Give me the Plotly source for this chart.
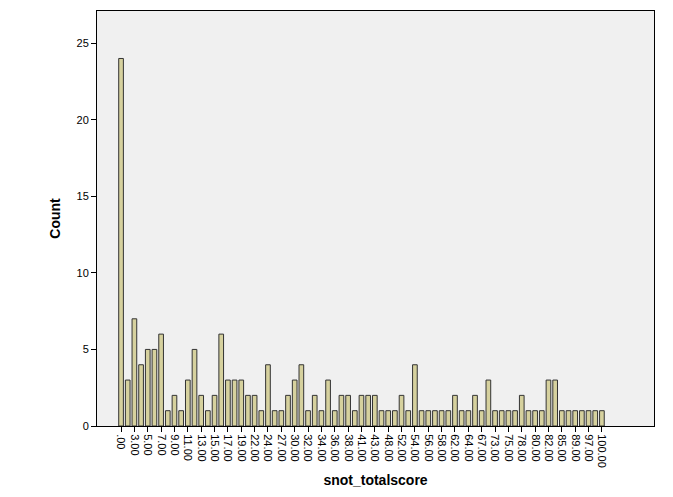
import plotly.graph_objects as go

scores = [0, 2, 3, 4, 5, 6, 7, 8, 9, 10, 11, 12, 13, 14, 15, 16, 17, 18, 19, 21,
          22, 23, 24, 26, 27, 29, 30, 31, 32, 33, 34, 35, 36, 37, 38, 40, 41, 42, 43, 45,
          48, 50, 52, 53, 54, 55, 56, 57, 58, 60, 62, 63, 64, 65, 67, 70, 73, 74, 75, 76,
          78, 79, 80, 81, 82, 83, 85, 87, 89, 93, 97, 99, 100]
counts = [24, 3, 7, 4, 5, 5, 6, 1, 2, 1, 3, 5, 2, 1, 2, 6, 3, 3, 3, 2,
          2, 1, 4, 1, 1, 2, 3, 4, 1, 2, 1, 3, 1, 2, 2, 1, 2, 2, 2, 1,
          1, 1, 2, 1, 4, 1, 1, 1, 1, 1, 2, 1, 1, 2, 1, 3, 1, 1, 1, 1,
          2, 1, 1, 1, 3, 3, 1, 1, 1, 1, 1, 1, 1]

labels = [".00" if s == 0 else f"{s}.00" for s in scores]

fig = go.Figure(go.Bar(
    x=labels, y=counts,
    marker=dict(color="#d6d19e", line=dict(color="#333333", width=1)),
    width=0.7,
))

fig.update_layout(
    width=673, height=497,
    margin=dict(l=89, r=27, t=3, b=79),
    plot_bgcolor="#f0f0f0", paper_bgcolor="white",
    font=dict(family="Liberation Sans, Arial", size=11, color="black"),
    showlegend=False,
)
fig.update_xaxes(
    type="category", range=[-3.6, 79.8],
    tickmode="array", tickvals=labels[::2], ticktext=labels[::2],
    tickangle=90, ticks="outside", ticklen=5, tickcolor="black",
    showline=True, linecolor="black", mirror=True, showgrid=False,
    title=dict(text="<b>snot_totalscore</b>", font=dict(size=14), standoff=8),
)
fig.update_yaxes(
    range=[0, 27.1], tickvals=[0, 5, 10, 15, 20, 25],
    ticks="outside", ticklen=5, tickcolor="black",
    showline=True, linecolor="black", mirror=True, showgrid=False, zeroline=False,
    title=dict(text="<b>Count</b>", font=dict(size=14), standoff=12),
)

fig.write_html("out.html")
